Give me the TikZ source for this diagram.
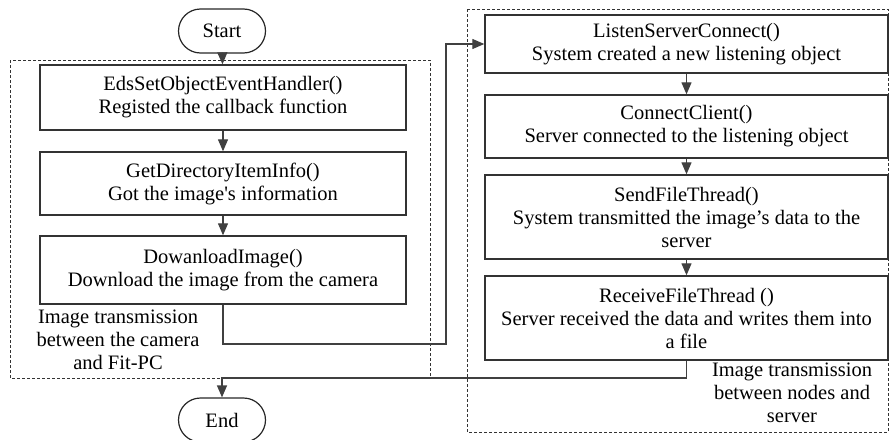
\documentclass[tikz,border=0pt]{standalone}
\usepackage{fontspec}
\setmainfont{Liberation Serif}
\usetikzlibrary{arrows.meta,shapes.misc}
\tikzset{> = {Triangle[length=12pt,width=10pt]},
  every node/.style={font=\fontsize{20.5}{23}\selectfont, align=center},
  func/.style={draw=black!80, line width=1.4pt, inner sep=0pt},
  term/.style={draw=black!85, line width=1.2pt, rounded rectangle, minimum width=87pt, minimum height=44pt, inner sep=0pt},
  group/.style={draw=black!80, dashed, dash pattern=on 3pt off 2pt, line width=0.6pt},
  link/.style={->, draw=black!75, line width=1.3pt}}

\begin{document}
\begin{tikzpicture}[x=1pt, y=-1pt]
\useasboundingbox (0,0) rectangle (890,439);
% groups
\draw[group] (10,60) rectangle (430,378);
\draw[group] (467,9) rectangle (888,432);
% nodes
\node[term] (start) at (222,31) {Start};
\node[term] (end) at (222,420) {End};
\node[func, minimum width=366pt, minimum height=65pt] (eds) at (223,97.5) {EdsSetObjectEventHandler()\\Registed the callback function};
\node[func, minimum width=366pt, minimum height=63pt] (info) at (223,183.5) {GetDirectoryItemInfo()\\Got the image\textquotesingle s information};
\node[func, minimum width=366pt, minimum height=68pt] (down) at (223,270) {DowanloadImage()\\Download the image from the camera};
\node[func, minimum width=403pt, minimum height=58pt] (listen) at (686.5,44) {ListenServerConnect()\\System created a new listening object};
\node[func, minimum width=403pt, minimum height=63pt] (client) at (686.5,126.5) {ConnectClient()\\Server connected to the listening object};
\node[func, minimum width=403pt, minimum height=84pt] (send) at (686.5,217) {SendFileThread()\\System transmitted the image’s data to the\\server};
\node[func, minimum width=403pt, minimum height=84pt] (recv) at (686.5,318) {ReceiveFileThread ()\\Server received the data and writes them into\\a file};
\node (camlabel) at (118,340) {Image transmission\\between the camera\\and Fit-PC};
\node (srvlabel) at (792,393) {Image transmission\\between nodes and\\server};
\coordinate (bend) at (446,344);
\coordinate (merge) at (686.5,378);
% edges
\draw[link] (start) -- (eds);
\draw[link] (eds) -- (info);
\draw[link] (info) -- (down);
\draw[link] (listen) -- (client);
\draw[link] (client) -- (send);
\draw[link] (send) -- (recv);
\draw[link] (down.south) |- (bend) |- (listen.west);
\draw[link] (recv.south) -- (merge) -| (end.north);
\end{tikzpicture}
\end{document}
